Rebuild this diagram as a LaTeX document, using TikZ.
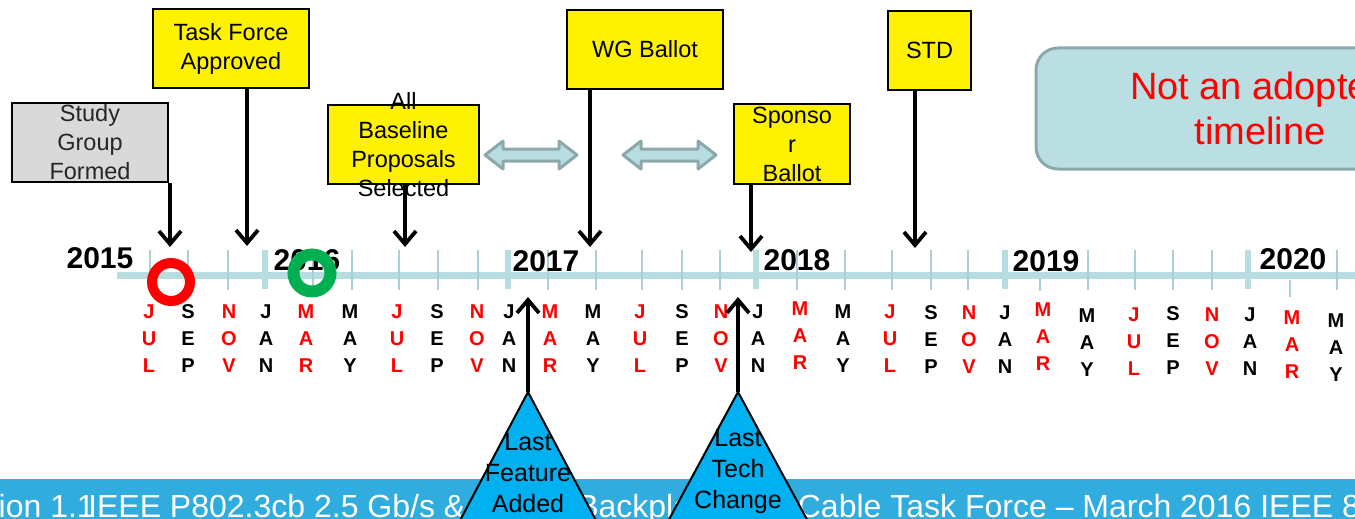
\documentclass[tikz,border=0pt]{standalone}
\usepackage{fontspec}
\setmainfont{Liberation Sans}
\usetikzlibrary{arrows.meta}

\definecolor{tlblue}{RGB}{183,221,224}
\definecolor{tltick}{RGB}{168,208,213}
\definecolor{tlgrey}{RGB}{140,168,172}
\definecolor{notefill}{RGB}{185,223,227}
\definecolor{barblue}{RGB}{48,172,222}
\definecolor{triblue}{RGB}{0,176,240}
\definecolor{msgreen}{RGB}{0,176,80}
\definecolor{boxgrey}{RGB}{217,217,217}

\tikzset{
  ybox/.style={draw, line width=2, fill=yellow, inner sep=0, align=center,
    font=\fontsize{23.5}{29}\selectfont, minimum height=79},
  gbox/.style={ybox, fill=boxgrey},
  boxtext/.style={align=center, font=\fontsize{23.5}{29}\selectfont, inner sep=0},
  month/.style={align=center, font=\fontsize{20}{27}\selectfont\bfseries, inner sep=0},
  mred/.style={month, text=red},
  year/.style={font=\fontsize{30}{30}\selectfont\bfseries, inner sep=0},
  pointer/.style={draw, line width=3.8, ->, >={Straight Barb[length=13pt, width=22pt]}},
  ring/.style={circle, inner sep=0, minimum size=38},
  tri/.style={draw, line width=2, fill=triblue},
  tritext/.style={align=center, font=\fontsize{25}{31}\selectfont, inner sep=0},
  dblarrow/.style={draw=tlgrey, line width=3, fill=tlblue, line join=round},
  notebox/.style={draw=tlgrey, line width=3, fill=notefill, rounded corners=22,
    minimum width=448, minimum height=121, align=center, text=red,
    font=\fontsize{38}{45}\selectfont},
  bannertext/.style={text=white, inner sep=0, font=\fontsize{32}{32}\selectfont}
}

\begin{document}
\begin{tikzpicture}[x=1pt, y=-1pt]
		\useasboundingbox (0,0) rectangle (1355,519);
		\clip (0,0) rectangle (1355,519);

		% footer
		\fill[barblue] (0,479) rectangle (1355,519);
		\node[bannertext, anchor=base east] (version) at (95,517) {Version 1.1};
		\node[bannertext, anchor=base west] (title) at (88,517) {IEEE P802.3cb 2.5 Gb/s \& 5 Gb/s Backplane and Cable Task Force -- March 2016 IEEE 802};

		% timeline
		\fill[tlblue] (117,272) rectangle (1355,279);
		\foreach \x in {150,188,228,313,352,399,438,478,548,596,642,682,720,797,845,892,931,968,1088,1135,1173,1212,1337}
			\draw[tltick, line width=2] (\x,250) -- (\x,290);
		\draw[tltick, line width=2] (1040,278) -- (1040,291);
		\draw[tltick, line width=2] (1290,280) -- (1290,297);
		\foreach \x in {265,508,756,1005,1248}
			\draw[tlblue, line width=6] (\x,250) -- (\x,289);

		\node[year] (y15) at (100,258) {2015};
		\node[year] (y16) at (307,260) {2016};
		\node[year] (y17) at (546,261) {2017};
		\node[year] (y18) at (797,260.5) {2018};
		\node[year] (y19) at (1046,261) {2019};
		\node[year] (y20) at (1293,259.5) {2020};

		\node[ring, draw=red, line width=10] (start) at (171,282) {};
		\node[ring, draw=msgreen, line width=12, minimum size=37] (now) at (312,273) {};

		% months
		\node[mred] (jul15) at (149,339) {J\\U\\L};
		\node[month] (sep15) at (188,339) {S\\E\\P};
		\node[mred] (nov15) at (229,339) {N\\O\\V};
		\node[month] (jan16) at (266,339) {J\\A\\N};
		\node[mred] (mar16) at (306,339) {M\\A\\R};
		\node[month] (may16) at (350,339) {M\\A\\Y};
		\node[mred] (jul16) at (397,339) {J\\U\\L};
		\node[month] (sep16) at (437,339) {S\\E\\P};
		\node[mred] (nov16) at (477,339) {N\\O\\V};
		\node[month] (jan17) at (509,339) {J\\A\\N};
		\node[mred] (mar17) at (550,339) {M\\A\\R};
		\node[month] (may17) at (593,339) {M\\A\\Y};
		\node[mred] (jul17) at (640,339) {J\\U\\L};
		\node[month] (sep17) at (682,339) {S\\E\\P};
		\node[mred] (nov17) at (721,339) {N\\O\\V};
		\node[month] (jan18) at (758,339) {J\\A\\N};
		\node[mred] (mar18) at (800,336) {M\\A\\R};
		\node[month] (may18) at (843,339) {M\\A\\Y};
		\node[mred] (jul18) at (890,339) {J\\U\\L};
		\node[month] (sep18) at (931,340) {S\\E\\P};
		\node[mred] (nov18) at (969,340) {N\\O\\V};
		\node[month] (jan19) at (1005,340) {J\\A\\N};
		\node[mred] (mar19) at (1043,337) {M\\A\\R};
		\node[month] (may19) at (1087,343) {M\\A\\Y};
		\node[mred] (jul19) at (1134,342) {J\\U\\L};
		\node[month] (sep19) at (1173,341) {S\\E\\P};
		\node[mred] (nov19) at (1212,342) {N\\O\\V};
		\node[month] (jan20) at (1250,342) {J\\A\\N};
		\node[mred] (mar20) at (1292,345) {M\\A\\R};
		\node[month] (may20) at (1336,348) {M\\A\\Y};

		% milestones
		\node[gbox, minimum width=156, text=black!85] (study) at (90,142.5) {Study\\Group\\Formed};
		\node[ybox, minimum width=156] (taskforce) at (231,48.5) {Task Force\\Approved};
		\node[ybox, minimum width=151] (baseline) at (403.5,144.5) {};
		\node[boxtext] (baselinetext) at (baseline) {All\\Baseline\\Proposals\\Selected};
		\node[ybox, minimum width=156] (wgballot) at (645,49.5) {WG Ballot};
		\node[ybox, minimum width=116, minimum height=80] (sponsor) at (792,144) {Sponso\\r\\Ballot};
		\node[ybox, minimum width=83] (std) at (929.5,50.5) {STD};

		\draw[dblarrow] (485,155) -- ++(18,-14) -- ++(0,8) -- ++(56,0) -- ++(0,-8) -- ++(18,14)
			-- ++(-18,14) -- ++(0,-8) -- ++(-56,0) -- ++(0,8) -- cycle;
		\draw[dblarrow] (623,155) -- ++(18,-14) -- ++(0,8) -- ++(57,0) -- ++(0,-8) -- ++(18,14)
			-- ++(-18,14) -- ++(0,-8) -- ++(-57,0) -- ++(0,8) -- cycle;

		\node[notebox] (note) at (1260,108.5) {Not an adopted\\timeline};

		\coordinate (atstudy) at (170,247);
		\coordinate (attf) at (247,246);
		\coordinate (atbase) at (405,247);
		\coordinate (atwg) at (590,247);
		\coordinate (atsponsor) at (751,252);
		\coordinate (atstd) at (915,248);
		\path [pointer] (study.south -| atstudy) -- (atstudy);
		\path [pointer] (taskforce.south -| attf) -- (attf);
		\path [pointer] (baseline.south -| atbase) -- (atbase);
		\path [pointer] (wgballot.south -| atwg) -- (atwg);
		\path [pointer] (sponsor.south -| atsponsor) -- (atsponsor);
		\path [pointer] (std.south -| atstd) -- (atstd);

		% freeze points
		\coordinate (feature) at (528,392);
		\coordinate (tech) at (738,392);
		\draw[tri] (feature) -- ++(-90,170) -- ++(180,0) -- cycle;
		\draw[tri] (tech) -- ++(-92,170) -- ++(184,0) -- cycle;
		\node[tritext] (featuretext) at (528,473) {Last\\Feature\\Added};
		\node[tritext] (techtext) at (738,471.5) {Last\\Tech\\Change};
		\coordinate (atfeature) at (528,297);
		\coordinate (attech) at (738,297);
		\path [pointer] (feature) -- (atfeature);
		\path [pointer] (tech) -- (attech);
	\end{tikzpicture}
\end{document}
